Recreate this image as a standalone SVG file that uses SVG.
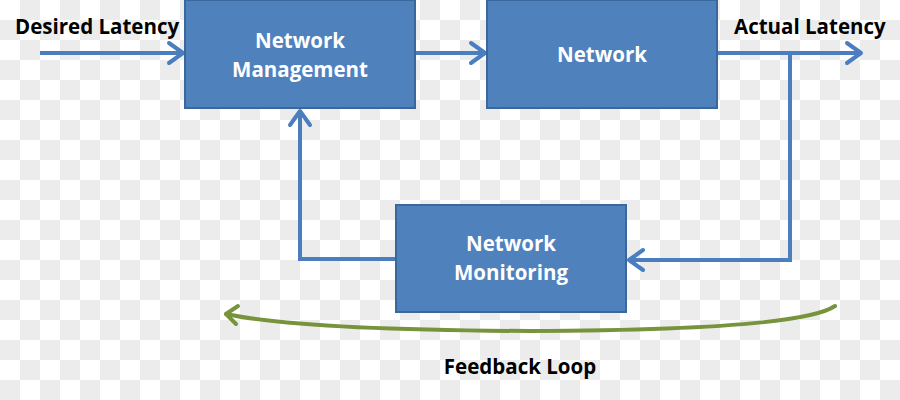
<svg xmlns="http://www.w3.org/2000/svg" width="900" height="400" viewBox="0 0 900 400">
<style>
.box{fill:#4f81bd;stroke:#3a679c;stroke-width:2}
.bt{fill:#fff;font-family:"Open Sans","Liberation Sans",sans-serif;font-weight:bold;font-size:20.5px;text-anchor:middle}
.lbl{fill:#000;font-family:"Open Sans","Liberation Sans",sans-serif;font-weight:bold;font-size:20.5px}
.conn{fill:none;stroke:#4a7ebf;stroke-width:4}
.head{fill:none;stroke:#4a7ebf;stroke-width:4;stroke-linecap:round;stroke-linejoin:round}
</style>
<defs>
<pattern id="chk" x="0" y="0" width="40" height="40" patternUnits="userSpaceOnUse">
<rect width="40" height="40" fill="#ffffff"/>
<rect x="20" y="0" width="20" height="20" fill="#ececec"/>
<rect x="0" y="20" width="20" height="20" fill="#ececec"/>
</pattern>
</defs>
<rect width="900" height="400" fill="url(#chk)"/>
<g id="connectors">
<path class="conn" d="M40 53 H183"/>
<path class="head" d="M169 43 L183 53 L169 63"/>
<path class="conn" d="M415 53 H485"/>
<path class="head" d="M471 43 L485 53 L471 63"/>
<path class="conn" d="M717 53 H861"/>
<path class="head" d="M847 43 L861 53 L847 63"/>
<path class="conn" d="M790 53 V260 H629"/>
<path class="head" d="M643 250 L629 260 L643 270"/>
<path class="conn" d="M396 259 H300 V111"/>
<path class="head" d="M290 125 L300 111 L310 125"/>
<path d="M835 306 Q800 330 530 331 Q300 330 226 314" fill="none" stroke="#77933c" stroke-width="4" stroke-linecap="round"/>
<path d="M238 306 L226 314 L236 324" fill="none" stroke="#77933c" stroke-width="4" stroke-linecap="round" stroke-linejoin="round"/>
</g>
<g id="network-management">
<rect class="box" x="185" y="0" width="230" height="108"/>
<text class="bt" x="300" y="48">Network</text>
<text class="bt" x="300" y="77">Management</text>
</g>
<g id="network">
<rect class="box" x="487" y="0" width="230" height="108"/>
<text class="bt" x="602" y="62">Network</text>
</g>
<g id="network-monitoring">
<rect class="box" x="396" y="205" width="230" height="107"/>
<text class="bt" x="511" y="251">Network</text>
<text class="bt" x="511" y="280">Monitoring</text>
</g>
<g id="labels">
<text class="lbl" x="15" y="34">Desired Latency</text>
<text class="lbl" x="734" y="34">Actual Latency</text>
<text class="lbl" x="520" y="374" text-anchor="middle">Feedback Loop</text>
</g>
</svg>
